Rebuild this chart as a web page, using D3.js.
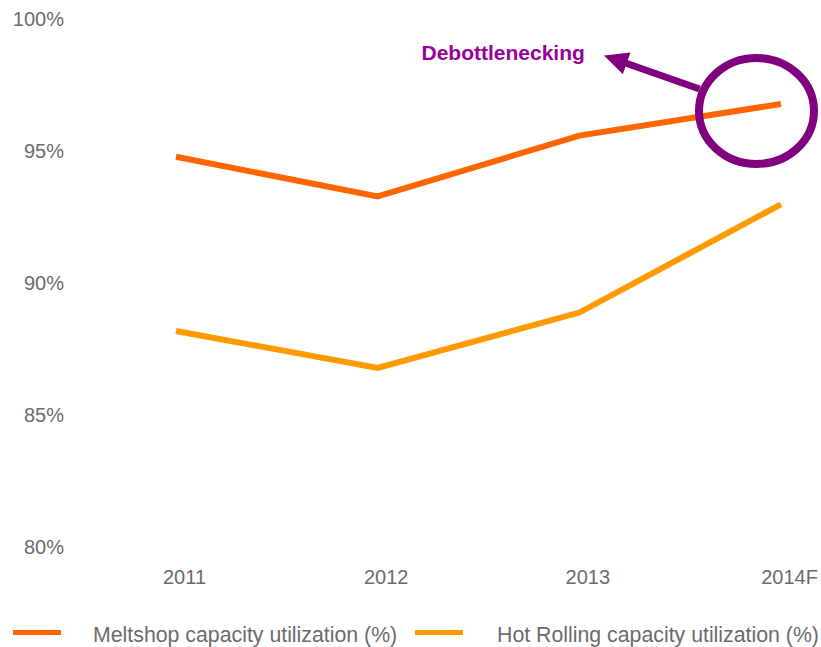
<!DOCTYPE html>
<html>
<head>
<meta charset="utf-8">
<script src="https://cdn.jsdelivr.net/npm/d3@7"></script>
<style>
  html, body { margin: 0; padding: 0; background: #fff; }
  svg { display: block; font-family: "Liberation Sans", Arial, sans-serif; }
</style>
</head>
<body>
<svg id="chart" width="821" height="647"></svg>
<script>
// Capacity utilization by year
const years = ["2011", "2012", "2013", "2014F"];
const meltshop = [94.8, 93.3, 95.6, 96.8];
const hotRolling = [88.2, 86.8, 88.9, 93.0];
const yTicks = [80, 85, 90, 95, 100];
const seriesNames = ["Meltshop capacity utilization (%)", "Hot Rolling capacity utilization (%)"];
const seriesColors = ["#FF6600", "#FF9900"];
const annotationText = "Debottlenecking";

const svg = d3.select("#chart");
const grey = "#6B6B6B";

const x = d3.scalePoint().domain(years).range([176, 781]);
const y = d3.scaleLinear().domain([80, 100]).range([547.5, 19.5]);

// Y axis labels
const yAxis = svg.append("g")
  .attr("transform", "translate(64,0)")
  .call(d3.axisLeft(y).tickValues(yTicks).tickSize(0).tickPadding(0).tickFormat(d => d + "%"));
yAxis.select(".domain").remove();
yAxis.selectAll("text")
  .attr("fill", grey)
  .style("font-size", "20px")
  .style("font-family", "'Liberation Sans', Arial, sans-serif");

// X axis labels
const xAxis = svg.append("g")
  .attr("transform", "translate(0,570)")
  .call(d3.axisBottom(x).tickSize(0).tickPadding(0));
xAxis.select(".domain").remove();
xAxis.selectAll("text")
  .attr("fill", grey)
  .attr("dx", 8)
  .style("font-size", "20px")
  .style("font-family", "'Liberation Sans', Arial, sans-serif");

// Series lines
const line = d3.line().x((d, i) => x(years[i])).y(d => y(d));
[meltshop, hotRolling].forEach((vals, k) => {
  svg.append("path")
    .datum(vals)
    .attr("d", line)
    .attr("fill", "none")
    .attr("stroke", seriesColors[k])
    .attr("stroke-width", 6)
    .attr("stroke-linejoin", "miter");
});

// Annotation: ellipse around the 2014F meltshop value with an arrow to the label
const purple = "#800080";
const px = x("2014F"), py = y(meltshop[3]);
const cx = px - 24.5, cy = py + 7;
svg.append("ellipse")
  .attr("cx", cx).attr("cy", cy)
  .attr("rx", 57.5).attr("ry", 53)
  .attr("fill", "none")
  .attr("stroke", purple)
  .attr("stroke-width", 8);

const start = [cx - 57, cy - 22];
const tip = [604, 55.5];
const ang = Math.atan2(tip[1] - start[1], tip[0] - start[0]);
const headLen = 24, headHalf = 11.5;
const base = [tip[0] - headLen * Math.cos(ang), tip[1] - headLen * Math.sin(ang)];
svg.append("line")
  .attr("x1", start[0]).attr("y1", start[1])
  .attr("x2", base[0] + 2 * Math.cos(ang)).attr("y2", base[1] + 2 * Math.sin(ang))
  .attr("stroke", purple)
  .attr("stroke-width", 7);
const nx = -Math.sin(ang), ny = Math.cos(ang);
svg.append("path")
  .attr("d", d3.line()([
    tip,
    [base[0] + nx * headHalf, base[1] + ny * headHalf],
    [base[0] - nx * headHalf, base[1] - ny * headHalf]
  ]) + "Z")
  .attr("fill", purple);

svg.append("text")
  .attr("x", 421.5).attr("y", 60)
  .attr("fill", "#990099")
  .style("font-size", "21px")
  .style("font-weight", "bold")
  .text(annotationText);

// Legend
const legendX = [13, 415];
const legend = svg.append("g");
seriesNames.forEach((name, k) => {
  legend.append("line")
    .attr("x1", legendX[k]).attr("x2", legendX[k] + 48)
    .attr("y1", 632.5).attr("y2", 632.5)
    .attr("stroke", seriesColors[k])
    .attr("stroke-width", 5);
  legend.append("text")
    .attr("x", legendX[k] + 80 + (k === 1 ? 2 : 0))
    .attr("y", 642)
    .attr("fill", grey)
    .style("font-size", "21.3px")
    .text(name);
});
</script>
</body>
</html>
